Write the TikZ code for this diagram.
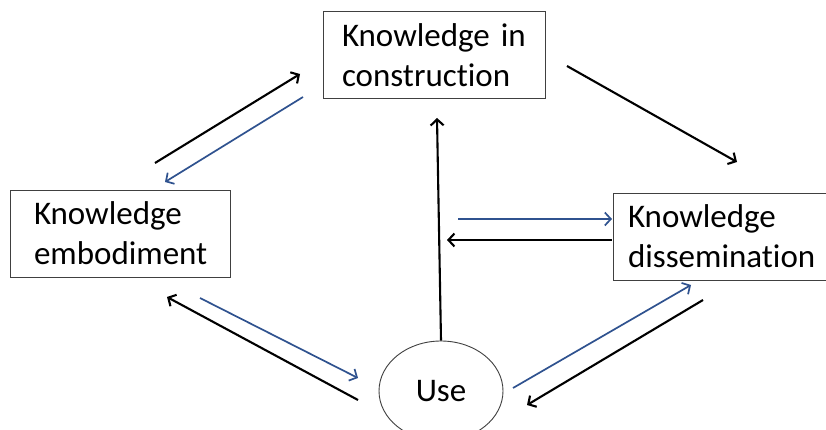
\documentclass[tikz,border=0pt]{standalone}
\usepackage{fontspec}
\setmainfont{Carlito}[Ligatures=NoCommon]
\usetikzlibrary{arrows.meta,shapes.geometric}
\definecolor{arrowblue}{RGB}{47,82,143}
\begin{document}
\begin{tikzpicture}[x=1pt,y=-1pt,
  box/.style={draw=black!75,line width=0.9pt,fill=white,align=left,
    font=\fontsize{33}{40}\selectfont,minimum height=87pt,inner ysep=0pt},
  blk/.style={draw=black,line width=2.1pt,-{Straight Barb[length=6pt,width=13pt,line width=2.1pt]}},
  blu/.style={draw=arrowblue,line width=1.7pt,-{Straight Barb[length=6pt,width=13pt,line width=1.7pt]}}]
\useasboundingbox (0,0) rectangle (826,430);
\fill[white] (0,0) rectangle (826,430);
\node[box,minimum width=222pt,text width=184pt,inner xsep=19pt] (con) at (434,55) {Knowledge in\\construction};
\node[box,minimum width=220pt,text width=172pt,inner xsep=24pt] (emb) at (120,233.5) {Knowledge\\embodiment};
\node[box,minimum width=220pt,text width=190pt,inner xsep=15pt] (dis) at (723,236.5) {Knowledge\\dissemination};
\node[draw=black!75,line width=0.9pt,ellipse,minimum width=124pt,minimum height=100pt,
  font=\fontsize{33}{40}\selectfont] (use) at (441,391) {Use};
% free ends
\coordinate (a1s) at (155,163); \coordinate (a1e) at (300,74);
\coordinate (a2s) at (303,97);  \coordinate (a2e) at (165,182);
\coordinate (a3s) at (567,66);  \coordinate (a3e) at (737,162);
\coordinate (a4e) at (437,118);
\coordinate (a5s) at (458,219); \coordinate (a5e) at (612,219);
\coordinate (a6s) at (612,240); \coordinate (a6e) at (447,240);
\coordinate (a7s) at (200,298); \coordinate (a7e) at (358,378);
\coordinate (a8s) at (358,400); \coordinate (a8e) at (167,297);
\coordinate (a9s) at (513,388); \coordinate (a9e) at (691,285);
\coordinate (a10s) at (703,300); \coordinate (a10e) at (527,405);
\draw[blk] (a1s) -- (a1e);
\draw[blu] (a2s) -- (a2e);
\draw[blk] (a3s) -- (a3e);
\draw[blk] (use.north) -- (a4e);
\draw[blu] (a5s) -- (a5e);
\draw[blk] (a6s) -- (a6e);
\draw[blu] (a7s) -- (a7e);
\draw[blk] (a8s) -- (a8e);
\draw[blu] (a9s) -- (a9e);
\draw[blk] (a10s) -- (a10e);
\end{tikzpicture}
\end{document}
